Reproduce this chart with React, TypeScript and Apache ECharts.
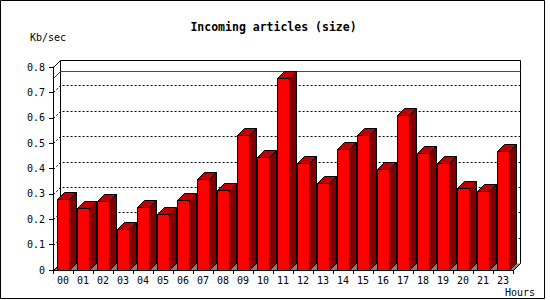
import React, { useEffect, useRef } from 'react';
import * as echarts from 'echarts';

const hours = ['00', '01', '02', '03', '04', '05', '06', '07', '08', '09', '10', '11', '12', '13', '14', '15', '16', '17', '18', '19', '20', '21', '23'];
const kbPerSec = [0.278, 0.246, 0.271, 0.163, 0.25, 0.222, 0.274, 0.357, 0.317, 0.532, 0.444, 0.758, 0.42, 0.341, 0.476, 0.532, 0.397, 0.61, 0.46, 0.42, 0.325, 0.31, 0.47];
const gridTicks = [0.1, 0.2, 0.3, 0.4, 0.5, 0.6, 0.7];

const TITLE = 'Incoming articles (size)';
const Y_NAME = 'Kb/sec';
const X_NAME = 'Hours';

const D = 7;
const FONT = 'DejaVu Sans Mono';
const MAX_COLOR = '#ff0000';
const snap = (v: number) => Math.round(v) + 0.5;

export default function App() {
  const ref = useRef<HTMLDivElement>(null);
  useEffect(() => {
    if (!ref.current) return;
    const chart = echarts.init(ref.current, null, { renderer: 'svg' });
    const maxVal = Math.max(...kbPerSec);

    const frameItem = (params: any) => {
      const cs = params.coordSys;
      const x0 = snap(cs.x);
      const x1 = snap(cs.x + cs.width);
      const yT = snap(cs.y);
      const yB = snap(cs.y + cs.height);
      return {
        type: 'group',
        children: [
          {
            type: 'polygon',
            shape: { points: [[x0, yB], [x1, yB], [x1 + D, yB - D], [x0 + D, yB - D]] },
            style: { fill: '#808080', stroke: 'none' },
          },
          {
            type: 'polyline',
            shape: { points: [[x0 + D, yB - D], [x0 + D, yT - D], [x1 + D, yT - D], [x1 + D, yB - D], [x1, yB]] },
            style: { fill: 'none', stroke: '#000', lineWidth: 1 },
          },
          {
            type: 'line',
            shape: { x1: x0, y1: yT, x2: x0 + D, y2: yT - D },
            style: { stroke: '#000', lineWidth: 1 },
          },
          {
            type: 'line',
            shape: { x1: x0, y1: yB, x2: x0 + D, y2: yB - D },
            style: { stroke: '#000', lineWidth: 1 },
          },
        ],
      };
    };

    const gridItem = (params: any, api: any) => {
      const cs = params.coordSys;
      const x0 = snap(cs.x);
      const x1 = snap(cs.x + cs.width);
      const y = snap(api.coord([0, api.value(1)])[1]);
      return {
        type: 'polyline',
        shape: { points: [[x0, y], [x0 + D, y - D], [x1 + D, y - D]] },
        style: { fill: 'none', stroke: '#000', lineWidth: 1, lineDash: [2, 2] },
      };
    };

    const maxItem = (params: any, api: any) => {
      const cs = params.coordSys;
      const x0 = snap(cs.x);
      const x1 = snap(cs.x + cs.width);
      const y = snap(api.coord([0, api.value(1)])[1]);
      return {
        type: 'group',
        children: [
          {
            type: 'line',
            z2: 50,
            shape: { x1: x0, y1: y, x2: x0 + D, y2: y - D },
            style: { stroke: MAX_COLOR, lineWidth: 1 },
          },
          {
            type: 'line',
            z2: 50,
            shape: { x1: x0 + D, y1: y - D, x2: x1 + D, y2: y - D },
            style: { stroke: MAX_COLOR, lineWidth: 1 },
          },
        ],
      };
    };

    const barItem = (params: any, api: any) => {
      const i = api.value(0);
      const v = api.value(1);
      const top = api.coord([i, v]);
      const base = api.coord([i, 0]);
      const bw = api.size([1, 0])[0];
      const W = Math.round(bw * 0.6);
      const L = snap(top[0] - W / 2);
      const yT = snap(top[1]);
      const yB = snap(base[1]);
      const z2 = params.dataIndex * 3;
      return {
        type: 'group',
        children: [
          {
            type: 'polygon',
            z2,
            shape: { points: [[L + W, yT], [L + W + D, yT - D], [L + W + D, yB - D], [L + W, yB]] },
            style: { fill: '#800000', stroke: '#000', lineWidth: 1 },
          },
          {
            type: 'polygon',
            z2: z2 + 1,
            shape: { points: [[L, yT], [L + W, yT], [L + W + D, yT - D], [L + D, yT - D]] },
            style: { fill: '#c00000', stroke: '#000', lineWidth: 1 },
          },
          {
            type: 'rect',
            z2: z2 + 2,
            shape: { x: L, y: yT, width: W, height: yB - yT },
            style: { fill: '#ff0000', stroke: '#000', lineWidth: 1 },
          },
        ],
      };
    };

    chart.setOption({
      animation: false,
      backgroundColor: '#ffffff',
      grid: { left: 53, right: 37, top: 67, bottom: 30 },
      xAxis: {
        type: 'category',
        data: hours,
        boundaryGap: true,
        z: 5,
        axisLine: { show: true, lineStyle: { color: '#000', width: 1 } },
        axisTick: { show: true, length: 4, lineStyle: { color: '#000', width: 1 } },
        axisLabel: { color: '#000', fontFamily: FONT, fontSize: 10, margin: 5, interval: 0 },
        splitLine: { show: false },
      },
      yAxis: {
        type: 'value',
        min: 0,
        max: 0.8,
        interval: 0.1,
        z: 5,
        axisLine: { show: true, lineStyle: { color: '#000', width: 1 } },
        axisTick: { show: true, length: 4, lineStyle: { color: '#000', width: 1 } },
        axisLabel: { color: '#000', fontFamily: FONT, fontSize: 10, margin: 8 },
        splitLine: { show: false },
      },
      graphic: [
        {
          type: 'rect',
          shape: { x: 0.5, y: 0.5, width: 544, height: 298 },
          style: { fill: 'none', stroke: '#000', lineWidth: 1 },
          z: 100,
        },
        {
          type: 'text',
          x: 273.5,
          y: 27,
          style: { text: TITLE, fontFamily: FONT, fontSize: 11.5, fontWeight: 'bold', fill: '#000', textAlign: 'center', textVerticalAlign: 'middle' },
        },
        {
          type: 'text',
          x: 30,
          y: 37.5,
          style: { text: Y_NAME, fontFamily: FONT, fontSize: 10, fill: '#000', textAlign: 'left', textVerticalAlign: 'middle' },
        },
        {
          type: 'text',
          x: 505,
          y: 292,
          style: { text: X_NAME, fontFamily: FONT, fontSize: 10, fill: '#000', textAlign: 'left', textVerticalAlign: 'middle' },
        },
      ],
      series: [
        {
          type: 'custom',
          name: 'frame',
          renderItem: frameItem,
          data: [[0, 0]],
          encode: { x: 0, y: 1 },
          z: 1,
          silent: true,
        },
        {
          type: 'custom',
          name: 'grid',
          renderItem: gridItem,
          data: gridTicks.map((v) => [0, v]),
          encode: { x: 0, y: 1 },
          z: 1,
          silent: true,
        },
        {
          type: 'custom',
          name: 'max',
          renderItem: maxItem,
          data: [[0, maxVal]],
          encode: { x: 0, y: 1 },
          itemStyle: { color: MAX_COLOR },
          z: 1.5,
          silent: true,
        },
        {
          type: 'custom',
          name: 'Kb/sec',
          renderItem: barItem,
          data: kbPerSec.map((v, i) => [i, v]),
          encode: { x: 0, y: 1 },
          z: 2,
        },
      ],
    });
    return () => chart.dispose();
  }, []);
  return <div ref={ref} style={{ position: 'absolute', left: 0, top: 0, width: 550, height: 300 }} />;
}
